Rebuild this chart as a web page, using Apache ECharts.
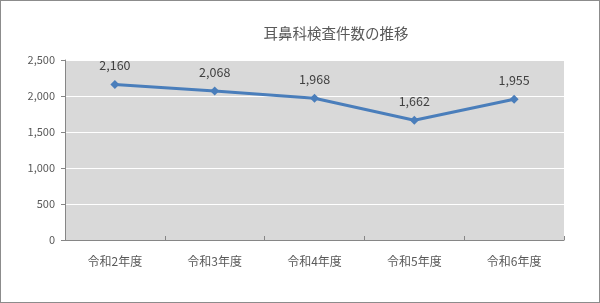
<!DOCTYPE html>
<html><head><meta charset="utf-8">
<script src="https://cdn.jsdelivr.net/npm/echarts@6/dist/echarts.min.js"></script>
<style>
html,body{margin:0;padding:0;background:#fff;}
#c{width:600px;height:303px;box-sizing:border-box;border:1px solid #8c8c8c;}
</style></head>
<body><div id="c"></div>
<script>
const title = '耳鼻科検査件数の推移';
const categories = ['令和2年度','令和3年度','令和4年度','令和5年度','令和6年度'];
const values = [2160, 2068, 1968, 1662, 1955];
const yTicks = [0, 500, 1000, 1500, 2000, 2500];

const chart = echarts.init(document.getElementById('c'), null, {renderer:'canvas'});
chart.setOption({
  backgroundColor:'#fff',
  animation:false,
  title:{text:title,left:330,top:20,textAlign:'center',
    textStyle:{fontFamily:'Noto Sans CJK JP',fontSize:14.5,fontWeight:'normal',color:'#595959'}},
  grid:{left:64,right:35,top:59,bottom:62,show:true,backgroundColor:'#d9d9d9',borderWidth:0},
  xAxis:{type:'category',data:categories,boundaryGap:true,
    axisLine:{lineStyle:{color:'#868686',width:1}},
    axisTick:{show:true,inside:true,length:4,lineStyle:{color:'#868686'}},
    axisLabel:{margin:15,fontFamily:'Noto Sans CJK JP',fontSize:12,color:'#595959'}},
  yAxis:{type:'value',min:yTicks[0],max:yTicks[yTicks.length-1],interval:500,
    axisLine:{show:true,lineStyle:{color:'#868686',width:1}},
    axisTick:{show:true,length:4,lineStyle:{color:'#868686'}},
    splitLine:{lineStyle:{color:'#ffffff',width:1}},
    axisLabel:{margin:10,fontFamily:'Noto Sans CJK JP',fontSize:11,color:'#595959',
      formatter:v=>v.toLocaleString('en-US')}},
  series:[{type:'line',data:values,symbol:'diamond',symbolSize:9,
    lineStyle:{color:'#4a7ebb',width:3},itemStyle:{color:'#4a7ebb'},
    label:{show:true,position:'top',distance:8,fontFamily:'Noto Sans CJK JP',fontSize:12.5,color:'#404040',
      formatter:p=>p.value.toLocaleString('en-US')}}]
});
</script></body></html>
